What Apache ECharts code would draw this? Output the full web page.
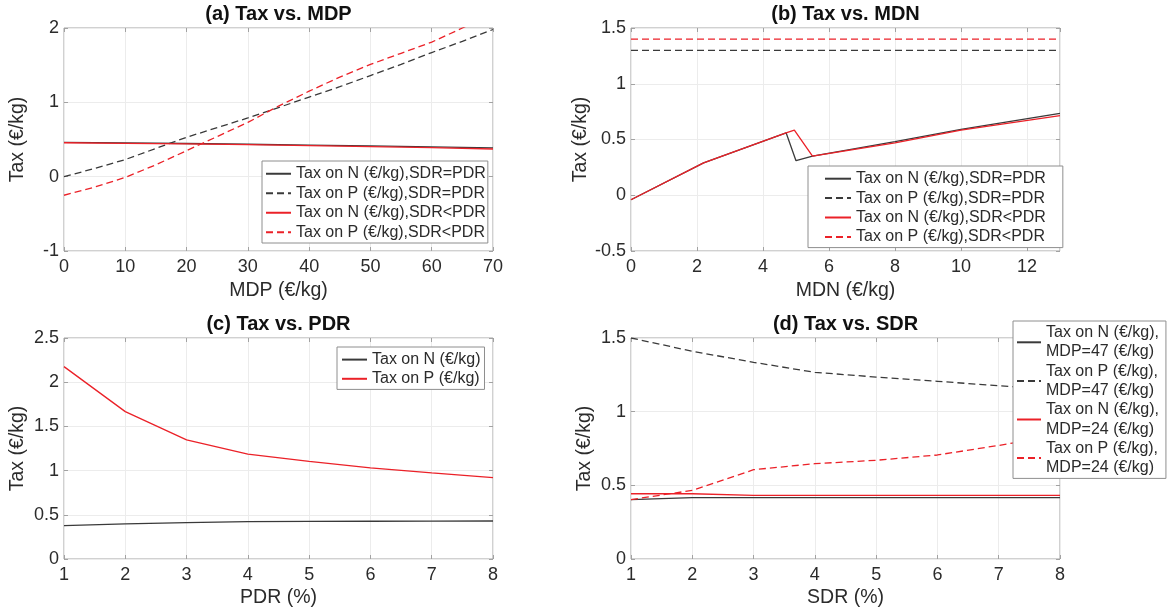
<!DOCTYPE html>
<html>
<head>
<meta charset="utf-8">
<title>Tax sensitivity</title>
<script src="https://cdn.jsdelivr.net/npm/echarts@6/dist/echarts.min.js"></script>
<style>
  html, body { margin: 0; padding: 0; background: #fff; }
  #main { width: 1168px; height: 614px; }
</style>
</head>
<body>
<div id="main"></div>
<script>
// ---- (a) Tax vs. MDP ----
const mdp = [0, 5, 10, 15, 20, 25, 30, 35, 40, 45, 50, 55, 60, 65, 70];
const mdpCoarse = [0, 10, 20, 30, 40, 50, 60, 70];
const taxN_MDP_eq = [0.462, 0.455, 0.446, 0.436, 0.425, 0.413, 0.400, 0.387];
const taxP_MDP_eq = [0, 0.11, 0.23, 0.38, 0.53, 0.66, 0.79, 0.93, 1.07, 1.21, 1.36, 1.51, 1.67, 1.82, 1.98];
const taxN_MDP_lt = [0.456, 0.449, 0.440, 0.430, 0.418, 0.405, 0.390, 0.372];
const taxP_MDP_lt = [-0.25, -0.14, -0.01, 0.16, 0.35, 0.54, 0.73, 0.95, 1.15, 1.34, 1.51, 1.66, 1.81, 2.00, 2.18];

// ---- (b) Tax vs. MDN ----
const mdnEq = [0, 2.2, 4.7, 5.0, 5.5, 8, 10, 13];
const taxN_MDN_eq = [-0.04, 0.29, 0.56, 0.31, 0.35, 0.48, 0.59, 0.735];
const mdnLt = [0, 2.2, 4.7, 4.95, 5.5, 8, 10, 13];
const taxN_MDN_lt = [-0.04, 0.29, 0.56, 0.585, 0.35, 0.47, 0.585, 0.715];
const mdnFlat = [0, 13];
const taxP_MDN_eq = [1.3, 1.3];
const taxP_MDN_lt = [1.4, 1.4];

// ---- (c) Tax vs. PDR ----
const pdr = [1, 2, 3, 4, 5, 6, 7, 8];
const taxN_PDR = [0.378, 0.397, 0.412, 0.423, 0.426, 0.427, 0.428, 0.430];
const taxP_PDR = [2.176, 1.667, 1.348, 1.187, 1.105, 1.030, 0.974, 0.921];

// ---- (d) Tax vs. SDR ----
const sdr = [1, 2, 3, 4, 5, 6, 7, 8];
const taxN_SDR_47 = [0.403, 0.416, 0.416, 0.416, 0.416, 0.416, 0.416, 0.416];
const taxP_SDR_47 = [1.50, 1.41, 1.335, 1.267, 1.235, 1.206, 1.176, 1.15];
const taxN_SDR_24 = [0.443, 0.443, 0.432, 0.432, 0.432, 0.432, 0.432, 0.432];
const taxP_SDR_24 = [0.403, 0.466, 0.606, 0.647, 0.670, 0.706, 0.771, 0.84];

// ---- text ----
const titles = ['(a) Tax vs. MDP', '(b) Tax vs. MDN', '(c) Tax vs. PDR', '(d) Tax vs. SDR'];
const xNames = ['MDP (€/kg)', 'MDN (€/kg)', 'PDR (%)', 'SDR (%)'];
const yName = 'Tax (€/kg)';
const namesAB = ['Tax on N (€/kg),SDR=PDR', 'Tax on P (€/kg),SDR=PDR', 'Tax on N (€/kg),SDR<PDR', 'Tax on P (€/kg),SDR<PDR'];
const namesC = ['Tax on N (€/kg)', 'Tax on P (€/kg)'];
const namesD = ['Tax on N (€/kg),\nMDP=47 (€/kg)', 'Tax on P (€/kg),\nMDP=47 (€/kg)', 'Tax on N (€/kg),\nMDP=24 (€/kg)', 'Tax on P (€/kg),\nMDP=24 (€/kg)'];

// axis ranges per panel
const xRanges = [
  { min: 0, max: 70, interval: 10 },
  { min: 0, max: 13, interval: 2 },
  { min: 1, max: 8, interval: 1 },
  { min: 1, max: 8, interval: 1 }
];
const yRanges = [
  { min: -1, max: 2, interval: 1 },
  { min: -0.5, max: 1.5, interval: 0.5 },
  { min: 0, max: 2.5, interval: 0.5 },
  { min: 0, max: 1.5, interval: 0.5 }
];

const FONT = "'Liberation Sans', Arial, Helvetica, sans-serif";
const BLACK = '#3a3a3a';
const RED = '#eb2128';
const BOX = '#a2a2a2';
const GRIDC = '#ececec';
const TXT = '#2b2b2b';

const grids = [
  { left: 64, top: 28, width: 429, height: 223 },
  { left: 631, top: 28, width: 429, height: 223 },
  { left: 64, top: 338, width: 429, height: 221 },
  { left: 631, top: 338, width: 429, height: 221 }
].map(g => Object.assign({ show: true, borderColor: BOX, borderWidth: 1, backgroundColor: '#fff', containLabel: false }, g));

const tick = { show: true, inside: true, length: 4, lineStyle: { color: BOX } };
const xNameGaps = [30, 30, 29, 29];

const xAxes = [];
const yAxes = [];
for (let i = 0; i < 4; i++) {
  xAxes.push(Object.assign({
    type: 'value', gridIndex: i, position: 'bottom',
    name: xNames[i], nameLocation: 'middle', nameGap: xNameGaps[i],
    nameTextStyle: { fontSize: 19.5, color: TXT, fontFamily: FONT },
    axisLine: { show: false, onZero: false },
    axisTick: tick,
    axisLabel: { fontSize: 18, color: TXT, margin: 7, fontFamily: FONT, showMaxLabel: i !== 1 },
    splitLine: { show: true, lineStyle: { color: GRIDC, width: 1 } }
  }, xRanges[i]));
  yAxes.push(Object.assign({
    type: 'value', gridIndex: i, position: 'left',
    name: yName, nameLocation: 'middle', nameGap: 36, nameRotate: 90,
    nameTextStyle: { fontSize: 19.5, color: TXT, fontFamily: FONT },
    axisLine: { show: false, onZero: false },
    axisTick: tick,
    axisLabel: { fontSize: 18, color: TXT, margin: 5, fontFamily: FONT },
    splitLine: { show: true, lineStyle: { color: GRIDC, width: 1 } }
  }, yRanges[i]));
}
// tick marks on the top and right edges of each box
for (let i = 0; i < 4; i++) {
  xAxes.push(Object.assign({
    type: 'value', gridIndex: i, position: 'top',
    axisLine: { show: false, onZero: false }, axisTick: tick,
    axisLabel: { show: false }, splitLine: { show: false }
  }, xRanges[i]));
  yAxes.push(Object.assign({
    type: 'value', gridIndex: i, position: 'right',
    axisLine: { show: false, onZero: false }, axisTick: tick,
    axisLabel: { show: false }, splitLine: { show: false }
  }, yRanges[i]));
}

function line(name, panel, xs, ys, color, dashed) {
  return {
    type: 'line', name: name,
    xAxisIndex: panel, yAxisIndex: panel,
    data: xs.map((x, k) => [x, ys[k]]),
    symbol: 'none', showSymbol: false, clip: true, silent: true,
    lineStyle: { color: color, width: 1.3, type: dashed ? [7, 4] : 'solid' },
    itemStyle: { color: color },
    animation: false
  };
}

const series = [
  // (a)
  line(namesAB[0], 0, mdpCoarse, taxN_MDP_eq, BLACK, false),
  line(namesAB[1], 0, mdp, taxP_MDP_eq, BLACK, true),
  line(namesAB[2], 0, mdpCoarse, taxN_MDP_lt, RED, false),
  line(namesAB[3], 0, mdp, taxP_MDP_lt, RED, true),
  // (b)
  line(namesAB[0], 1, mdnEq, taxN_MDN_eq, BLACK, false),
  line(namesAB[1], 1, mdnFlat, taxP_MDN_eq, BLACK, true),
  line(namesAB[2], 1, mdnLt, taxN_MDN_lt, RED, false),
  line(namesAB[3], 1, mdnFlat, taxP_MDN_lt, RED, true),
  // (c)
  line(namesC[0], 2, pdr, taxN_PDR, BLACK, false),
  line(namesC[1], 2, pdr, taxP_PDR, RED, false),
  // (d)
  line(namesD[0], 3, sdr, taxN_SDR_47, BLACK, false),
  line(namesD[1], 3, sdr, taxP_SDR_47, BLACK, true),
  line(namesD[2], 3, sdr, taxN_SDR_24, RED, false),
  line(namesD[3], 3, sdr, taxP_SDR_24, RED, true)
];

// legend boxes: line sample only, no point marker
function legend(left, top, names, pad, iconW, lh) {
  return {
    orient: 'vertical', left: left, top: top, padding: pad,
    itemGap: 0, itemWidth: iconW, itemHeight: 10,
    itemStyle: { opacity: 0, borderWidth: 0 },
    backgroundColor: '#fff', borderColor: '#8e8e8e', borderWidth: 1, borderRadius: 0,
    selectedMode: false,
    textStyle: { fontSize: 16, color: TXT, lineHeight: lh, fontFamily: FONT },
    data: names
  };
}

const titleCenters = [278.5, 845.5, 278.5, 845.5];
const titleTops = [4, 4, 314, 314];

const option = {
  animation: false,
  backgroundColor: '#fff',
  textStyle: { fontFamily: FONT },
  title: titles.map((t, i) => ({
    text: t, left: titleCenters[i], top: titleTops[i], textAlign: 'center', padding: 0,
    textStyle: { fontSize: 20, fontWeight: 'bold', color: '#111', fontFamily: FONT }
  })),
  grid: grids,
  xAxis: xAxes,
  yAxis: yAxes,
  legend: [
    legend(262, 161, namesAB, [3, 2, 1, 3], 25, 19.5),
    legend(808, 166, namesAB, [3, 17, 1, 16], 26, 19.4),
    legend(337, 347, namesC, [3, 4, 1, 4], 25, 19.2),
    legend(1013, 321, namesD, [2, 7, 1, 3], 24, 19.3)
  ],
  series: series
};

const chart = echarts.init(document.getElementById('main'), null, { renderer: 'canvas' });
chart.setOption(option);
</script>
</body>
</html>
